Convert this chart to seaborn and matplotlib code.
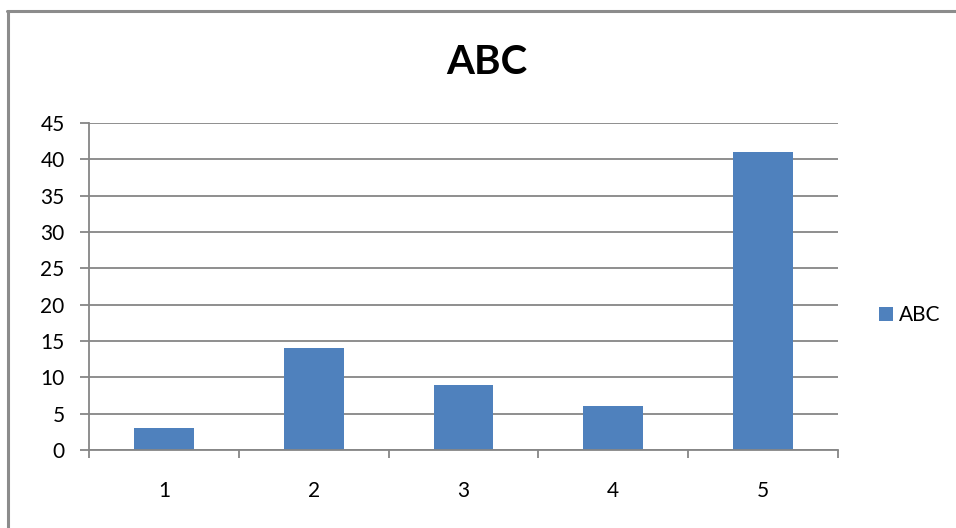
import matplotlib
matplotlib.use("Agg")
import matplotlib.pyplot as plt
from matplotlib.patches import Patch
from matplotlib.lines import Line2D
import seaborn as sns
import pandas as pd

# =============================
# DATA
# =============================
categories = ["1", "2", "3", "4", "5"]
values = [3, 14, 9, 6, 41]
y_ticks = [0, 5, 10, 15, 20, 25, 30, 35, 40, 45]
series_name = "ABC"

df = pd.DataFrame({"cat": categories, "val": values})

sns.set_style("white")
plt.rcParams["font.family"] = ["Lato", "DejaVu Sans"]
plt.rcParams["text.color"] = "black"

bar_color = "#4F81BD"
grid_color = "#868686"

fig = plt.figure(figsize=(9.56, 5.28), dpi=100)
ax = fig.add_axes([89 / 956, 1 - 450 / 528, (838 - 89) / 956, (450 - 123) / 528])

sns.barplot(data=df, x="cat", y="val", color=bar_color, width=0.4,
            saturation=1, edgecolor="none", linewidth=0, ax=ax)

ax.set_ylim(0, 45)
ax.set_xlim(-0.5, len(categories) - 0.5)
ax.set_yticks(y_ticks)
ax.set_xlabel("")
ax.set_ylabel("")

# grid + spines
ax.set_axisbelow(True)
ax.yaxis.grid(True, color=grid_color, linewidth=1.3)
ax.xaxis.grid(False)
for side in ["top", "right"]:
    ax.spines[side].set_visible(False)
for side in ["left", "bottom"]:
    ax.spines[side].set_color(grid_color)
    ax.spines[side].set_linewidth(1.3)

# ticks: y outward, x labels centred with boundary tick marks
ax.tick_params(axis="y", which="major", length=6.5, width=1.3, color=grid_color,
               left=True, labelsize=15, pad=11, labelcolor="black")
ax.tick_params(axis="x", which="major", length=0, labelsize=15, pad=22,
               labelcolor="black")
ax.set_xticks([i - 0.5 for i in range(len(categories) + 1)], minor=True)
ax.tick_params(axis="x", which="minor", length=6, width=1.3, color=grid_color,
               bottom=True)

# title
fig.text(0.509, 1 - 62 / 528, "ABC", fontsize=29, fontweight="bold",
         ha="center", va="center", color="black")

# legend
fig.legend(handles=[Patch(facecolor=bar_color, edgecolor="none")],
           labels=[series_name], loc="center left",
           bbox_to_anchor=(879 / 956, 1 - 315 / 528), frameon=False,
           fontsize=15, handlelength=0.65, handleheight=0.65,
           handletextpad=0.3, borderpad=0, borderaxespad=0)

# outer chart border (only top-left visible in crop)
fig.add_artist(Line2D([8 / 956, 8 / 956], [0, 1 - 11 / 528],
                      transform=fig.transFigure, color="#8C8C8C", linewidth=2.2))
fig.add_artist(Line2D([7 / 956, 1], [1 - 11 / 528, 1 - 11 / 528],
                      transform=fig.transFigure, color="#8C8C8C", linewidth=2.2))

fig.savefig("out.png", dpi=100)
